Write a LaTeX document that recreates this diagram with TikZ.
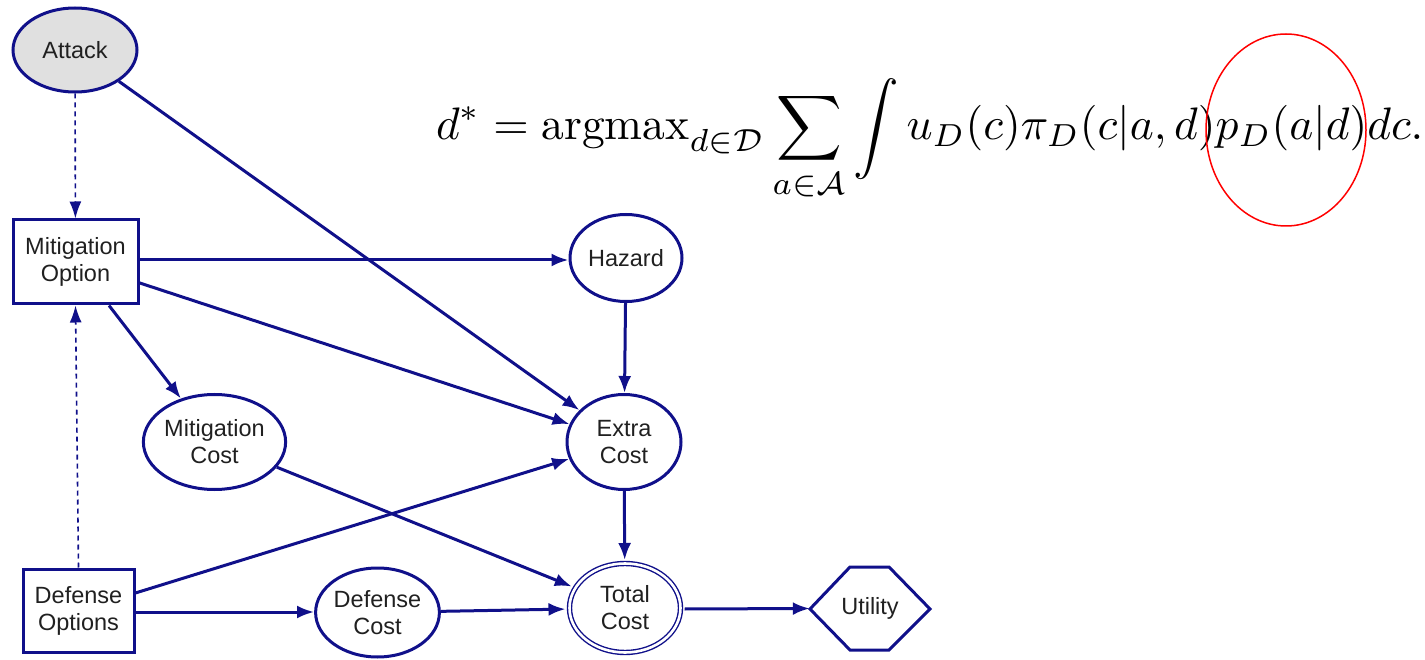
\documentclass[tikz,border=0pt]{standalone}
\usepackage{fontspec}
\setsansfont{Liberation Sans}
\usepackage{amsmath,graphicx}
\usetikzlibrary{arrows.meta,shapes.geometric}
\definecolor{navy}{HTML}{10108A}
\definecolor{ink}{HTML}{202020}
\definecolor{attackfill}{HTML}{E0E0E0}
\tikzset{
  every node/.style={font=\sffamily\fontsize{23.5}{27}\selectfont, text=ink, align=center, inner sep=0pt},
  ell/.style={ellipse, draw=navy, line width=3pt},
  box/.style={rectangle, draw=navy, line width=3pt},
  conn/.style={draw=navy, line width=3pt, -{Latex[length=17pt,width=13pt]}},
  dconn/.style={draw=navy, line width=1.6pt, dash pattern=on 5pt off 4pt, -{Latex[length=17pt,width=12pt]}},
}
\begin{document}
\begin{tikzpicture}[x=1pt,y=-1pt]
\useasboundingbox (0,0) rectangle (1425,660);
\node[ell, fill=attackfill, minimum width=124pt, minimum height=84pt] (att) at (75,50) {Attack};
\node[box, minimum width=125pt, minimum height=84pt] (mo) at (75.5,262) {Mitigation\\Option};
\node[ell, minimum width=112pt, minimum height=87pt] (haz) at (626,258) {Hazard};
\node[ell, minimum width=114pt, minimum height=95pt] (ec) at (624,442) {Extra\\Cost};
\node[ell, minimum width=135pt, minimum height=95pt] (mc) at (214.5,442) {Mitigation\\Cost};
\node[ell, draw=none, minimum width=116pt, minimum height=93pt] (tc) at (625,608) {Total\\Cost};
\draw[navy, line width=1.4pt, double=white, double distance=2.6pt] (625,608) ellipse [x radius=55.5pt, y radius=44.5pt];
\node[box, minimum width=111pt, minimum height=83pt] (do) at (78.5,610.5) {Defense\\Options};
\node[ell, minimum width=119pt, minimum height=89pt] (dc) at (377.5,612.5) {Defense\\Cost};
\node[minimum width=120pt, minimum height=83pt] (ut) at (870,608.5) {Utility};
\draw[navy, line width=3pt, line join=miter] (810,609) -- (850,567) -- (889,567) -- (930,609) -- (889,650) -- (850,650) -- cycle;
\path[dconn] (att) -- (mo);
\path[dconn] (do.north) -- (mo.south);
\path[conn] (att) -- (ec);
\path[conn] (mo.east |- 0,260) -- (haz.west |- 0,260);
\path[conn] (mo) -- (ec);
\path[conn] (mo) -- (mc);
\path[conn] (haz) -- (ec);
\path[conn] (mc) -- (tc);
\path[conn] (do) -- (ec);
\path[conn] (do.east |- 0,612) -- (dc.west |- 0,612);
\path[conn] (dc) -- (tc);
\path[conn] (ec) -- (tc);
\path[conn] (tc.east |- 0,609) -- (ut.west);
\node[anchor=base west, font=\normalfont, text=black] (eq) at (436,140) {\resizebox{987pt}{!}{$\displaystyle d^* = \mathrm{argmax}_{d\in\mathcal{D}}\sum_{a\in\mathcal{A}}\int u_D(c)\pi_D(c|a,d)p_D(a|d)dc.$}};
\draw[red, line width=1.5pt] (1286,130) ellipse [x radius=80pt, y radius=96pt];
\end{tikzpicture}
\end{document}
